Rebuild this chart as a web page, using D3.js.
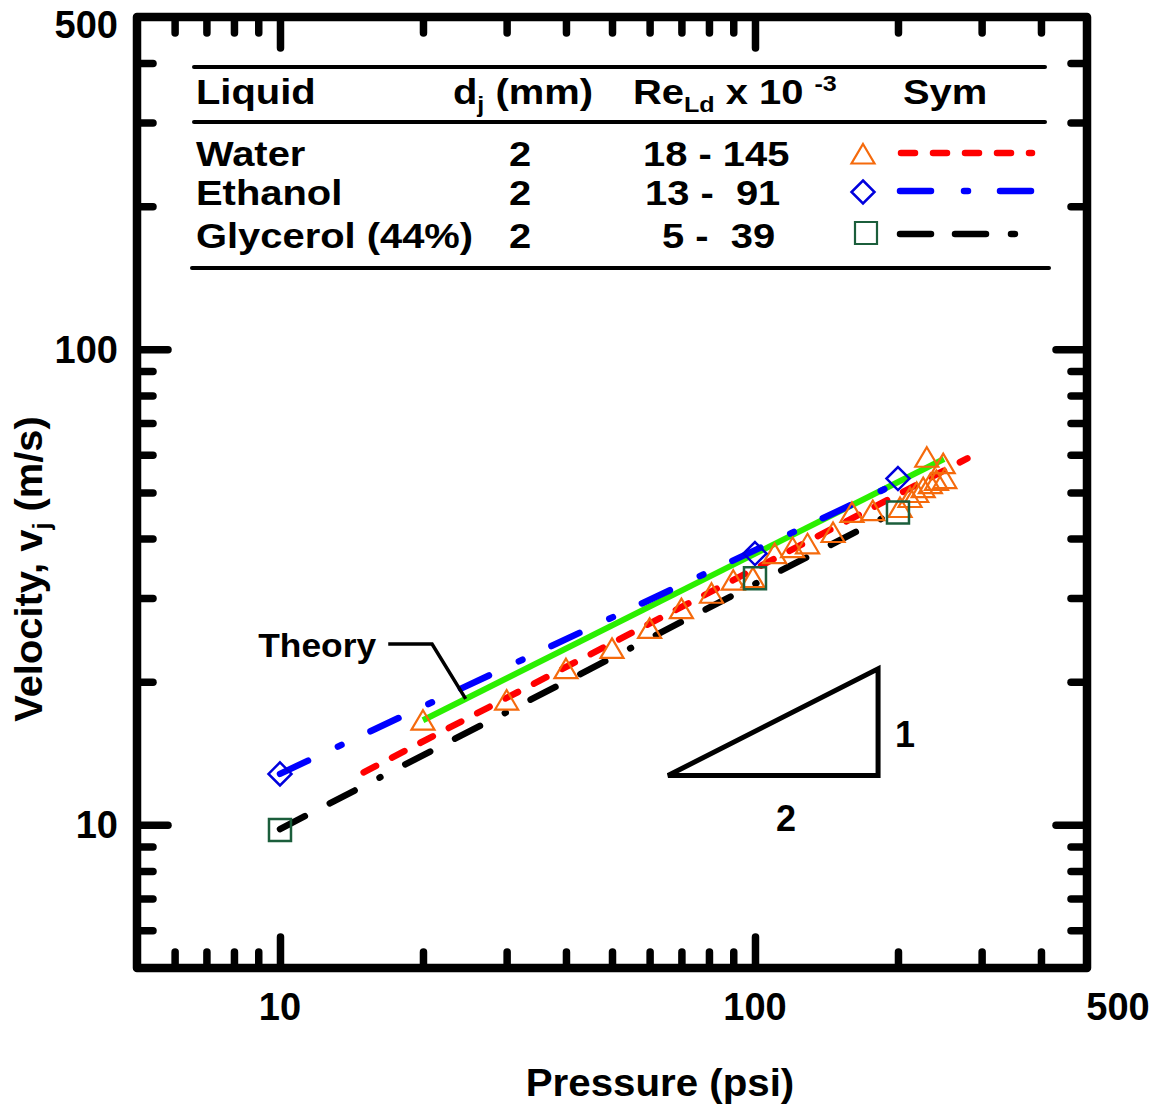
<!DOCTYPE html>
<html>
<head>
<meta charset="utf-8">
<script src="https://cdn.jsdelivr.net/npm/d3@7"></script>
<style>
  html, body { margin: 0; padding: 0; background: #fff; }
  svg { display: block; font-family: "Liberation Sans", Arial, Helvetica, sans-serif; font-weight: bold; }
</style>
</head>
<body>
<svg id="chart" width="1165" height="1110"></svg>
<script>
// ---------------- data ----------------
// Water (triangles): pressure (psi), velocity (m/s)
const waterP = [20, 30, 40, 50, 60, 70, 81, 90, 99, 110, 120, 129, 146, 160, 177, 202, 212, 219, 226, 234, 241, 230, 249, 251];
const waterV = [16.6, 18.3, 21.3, 23.5, 25.9, 28.5, 30.7, 32.7, 33.1, 37.2, 38.3, 39.0, 41.2, 45.4, 45.8, 46.5, 48.8, 50.0, 51.2, 52.2, 53.0, 59.3, 57.5, 53.5];
// Ethanol (diamonds)
const ethanolP = [10, 100, 200];
const ethanolV = [12.8, 37.2, 53.5];
// Glycerol 44% (squares)
const glycerolP = [10, 100, 200];
const glycerolV = [9.76, 33.0, 45.4];
// Fitted lines
const waterFitP = [15, 280];
const waterFitV = [12.9, 59.0];
const ethanolFitP = [10, 200];
const ethanolFitV = [12.8, 52.4];
const glycerolFitP = [10, 200];
const glycerolFitV = [9.8, 45.9];
// Theory line
const theoryP = [20, 250];
const theoryV = [16.6, 58.8];
// Tick values
const majorTicks = [10, 100];
const minorTicks = [6, 7, 8, 9, 20, 30, 40, 50, 60, 70, 80, 90, 200, 300, 400];
const xTickLabels = [10, 100, 500];
const yTickLabels = [10, 100, 500];
// Legend table
const liquids = ["Water", "Ethanol", "Glycerol (44%)"];
const diameters = ["2", "2", "2"];
const reRanges = ["18 - 145", "13 -  91", "5 -  39"];
// slope triangle (data units)
const slopeP = [65.6, 181.6];
const slopeV = [12.7, 21.3];
// Theory leader (data units)
const leaderP = [16.9, 20.9, 24.6];
const leaderV = [24.0, 24.0, 18.4];

// ---------------- layout ----------------
const svg = d3.select("#chart");
const L = 137, R = 1087, T = 17, B = 968;
const x = d3.scaleLog().domain([5, 500]).range([L, R]);
const y = d3.scaleLog().domain([5, 500]).range([B, T]);

const FS_AX = 38, FS_TAB = 35, SX = 1.14;

// frame
svg.append("rect").attr("x", L).attr("y", T).attr("width", R - L).attr("height", B - T)
  .attr("fill", "none").attr("stroke", "#000").attr("stroke-width", 8.5).attr("stroke-linejoin", "round");

function tickAxis(gen, tf, vals, len) {
  const g = svg.append("g").attr("transform", tf)
    .call(gen.tickValues(vals).tickSize(-len).tickFormat(""));
  g.select(".domain").remove();
  g.selectAll(".tick line").attr("stroke", "#000").attr("stroke-width", 7.5).attr("stroke-linecap", "round");
}
const sides = () => [[d3.axisBottom(x), `translate(0,${B})`], [d3.axisTop(x), `translate(0,${T})`],
 [d3.axisLeft(y), `translate(${L},0)`], [d3.axisRight(y), `translate(${R},0)`]];
sides().forEach(([gen, tf]) => tickAxis(gen, tf, minorTicks, 16));
sides().forEach(([gen, tf]) => tickAxis(gen, tf, majorTicks, 31));

// tick labels
svg.selectAll(".xl").data(xTickLabels).enter().append("text")
  .attr("x", d => x(d) + (d === 500 ? 31 : 0)).attr("y", 1020)
  .attr("text-anchor", "middle").attr("font-size", FS_AX).text(d => d);
svg.selectAll(".yl").data(yTickLabels).enter().append("text")
  .attr("x", 118).attr("y", d => y(d) + (d === 500 ? 21 : 13.5))
  .attr("text-anchor", "end").attr("font-size", FS_AX).text(d => d);

// axis titles
svg.append("text").attr("transform", "translate(660,1096) scale(1.06,1)").attr("text-anchor", "middle")
  .attr("font-size", FS_AX).text("Pressure (psi)");
const yt = svg.append("text").attr("transform", "translate(42,569) rotate(-90) scale(1.05,1)")
  .attr("text-anchor", "middle").attr("font-size", FS_AX);
yt.append("tspan").text("Velocity, v");
yt.append("tspan").attr("font-size", 24).attr("dy", 8).text("j");
yt.append("tspan").attr("dy", -8).text(" (m/s)");

// ---------------- data lines ----------------
const line = d3.line().x(d => x(d[0])).y(d => y(d[1]));
const zip = (a, b) => a.map((v, i) => [v, b[i]]);

svg.append("path").datum(zip(glycerolFitP, glycerolFitV)).attr("d", line)
  .attr("fill", "none").attr("stroke", "#000").attr("stroke-width", 6.5)
  .attr("stroke-linecap", "round").attr("stroke-dasharray", "28,28,28,28,1,28");
svg.append("path").datum(zip(waterFitP, waterFitV)).attr("d", line)
  .attr("fill", "none").attr("stroke", "#ff0000").attr("stroke-width", 6.5)
  .attr("stroke-linecap", "round").attr("stroke-dasharray", "14,18");
svg.append("path").datum(zip(theoryP, theoryV)).attr("d", line)
  .attr("fill", "none").attr("stroke", "#2bef00").attr("stroke-width", 6);
svg.append("path").datum(zip(ethanolFitP, ethanolFitV)).attr("d", line)
  .attr("fill", "none").attr("stroke", "#0000ff").attr("stroke-width", 6.5)
  .attr("stroke-linecap", "round").attr("stroke-dasharray", "31,33,4,32");

// markers
const triPath = "M0,-11 L11.5,8.5 L-11.5,8.5 Z";
const diaPath = "M0,-11.5 L11.5,0 L0,11.5 L-11.5,0 Z";
const sqPath = "M-11,-11 L11,-11 L11,11 L-11,11 Z";
const ORANGE = "#f56a0c", BLUE = "#0000dd", DGREEN = "#1b5e3b";

svg.selectAll(".tri").data(zip(waterP, waterV)).enter().append("path")
  .attr("d", triPath).attr("transform", d => `translate(${x(d[0])},${y(d[1]) + 1})`)
  .attr("fill", "none").attr("stroke", ORANGE).attr("stroke-width", 2.2);
svg.selectAll(".dia").data(zip(ethanolP, ethanolV)).enter().append("path")
  .attr("d", diaPath).attr("transform", d => `translate(${x(d[0])},${y(d[1])})`)
  .attr("fill", "none").attr("stroke", BLUE).attr("stroke-width", 2.5);
svg.selectAll(".sq").data(zip(glycerolP, glycerolV)).enter().append("path")
  .attr("d", sqPath).attr("transform", d => `translate(${x(d[0])},${y(d[1])})`)
  .attr("fill", "none").attr("stroke", DGREEN).attr("stroke-width", 2.5);

// slope triangle
const sp = [[slopeP[0], slopeV[0]], [slopeP[1], slopeV[0]], [slopeP[1], slopeV[1]]];
svg.append("path").attr("d", line(sp) + "Z").attr("fill", "none")
  .attr("stroke", "#000").attr("stroke-width", 5).attr("stroke-linejoin", "miter");
svg.append("text").attr("x", x(slopeP[1]) + 27).attr("y", (y(slopeV[0]) + y(slopeV[1])) / 2 + 25)
  .attr("text-anchor", "middle").attr("font-size", FS_AX - 2).text("1");
svg.append("text").attr("x", (x(slopeP[0]) + x(slopeP[1])) / 2 + 13).attr("y", y(slopeV[0]) + 55)
  .attr("text-anchor", "middle").attr("font-size", FS_AX - 2).text("2");

// theory annotation
svg.append("path").attr("d", line(zip(leaderP, leaderV))).attr("fill", "none")
  .attr("stroke", "#000").attr("stroke-width", 3.5);
svg.append("text").attr("transform", `translate(${x(leaderP[0]) - 130},${y(leaderV[0]) + 13}) scale(1.04,1)`)
  .attr("font-size", 34).text("Theory");

// ---------------- legend table ----------------
const tab = svg.append("g");
[[194, 1045, 67], [194, 1045, 122], [192, 1049, 268]].forEach(([x1, x2, yy]) => {
  tab.append("line").attr("x1", x1).attr("x2", x2).attr("y1", yy).attr("y2", yy)
    .attr("stroke", "#000").attr("stroke-width", 4).attr("stroke-linecap", "round");
});
function ttext(px, py, anchor) {
  return tab.append("text").attr("transform", `translate(${px},${py}) scale(${SX},1)`)
    .attr("text-anchor", anchor || "start").attr("font-size", FS_TAB);
}
ttext(196, 104).text("Liquid");
const hd = ttext(453, 104);
hd.append("tspan").text("d");
hd.append("tspan").attr("font-size", 22).attr("dy", 8).text("j");
hd.append("tspan").attr("dy", -8).text(" (mm)");
const hr = ttext(633, 104);
hr.append("tspan").text("Re");
hr.append("tspan").attr("font-size", 22).attr("dy", 8).text("Ld");
hr.append("tspan").attr("dy", -8).text(" x 10 ");
hr.append("tspan").attr("font-size", 22).attr("dy", -13).text("-3");
ttext(903, 104).text("Sym");

const rowY = [166, 205, 248];
const reX = [643, 645, 662];
liquids.forEach((name, i) => {
  ttext(196, rowY[i]).text(name);
  ttext(520, rowY[i], "middle").text(diameters[i]);
  ttext(reX[i], rowY[i]).style("white-space", "pre").text(reRanges[i]);
});
// legend symbols
tab.append("path").attr("d", triPath).attr("transform", "translate(863,155)")
  .attr("fill", "none").attr("stroke", ORANGE).attr("stroke-width", 2.2);
tab.append("path").attr("d", diaPath).attr("transform", "translate(863,192)")
  .attr("fill", "none").attr("stroke", BLUE).attr("stroke-width", 2.5);
tab.append("path").attr("d", sqPath).attr("transform", "translate(866,233)")
  .attr("fill", "none").attr("stroke", DGREEN).attr("stroke-width", 2.2);
[[901, 1032, 153, "#ff0000", "14,18"], [900, 1031, 191, "#0000ff", "31,33,4,32"],
 [900, 1015, 234, "#000", "31,24,31,25,4,25"]].forEach(([x1, x2, yy, c, da]) => {
  tab.append("line").attr("x1", x1).attr("x2", x2).attr("y1", yy).attr("y2", yy)
    .attr("stroke", c).attr("stroke-width", 6.5).attr("stroke-linecap", "round")
    .attr("stroke-dasharray", da);
});
</script>
</body>
</html>
